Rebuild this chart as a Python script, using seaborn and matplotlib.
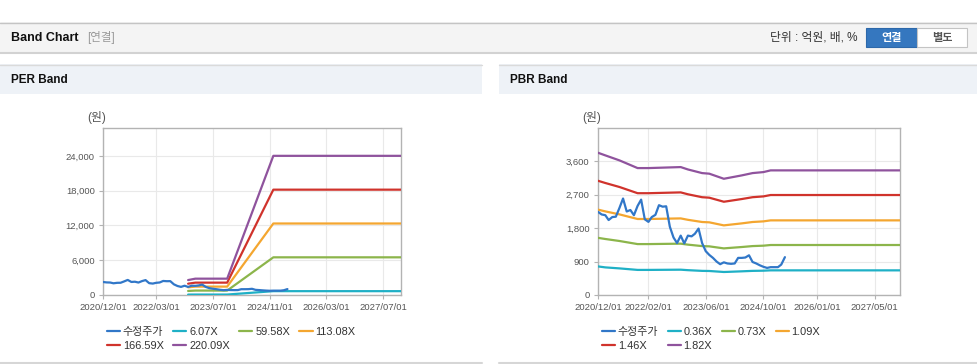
import pandas as pd
import matplotlib
matplotlib.use("Agg")
import matplotlib.pyplot as plt
import matplotlib.dates as mdates
from matplotlib.patches import Rectangle
from matplotlib.lines import Line2D
from matplotlib.ticker import FuncFormatter
import seaborn as sns

W, H = 978, 364

### data
# adjusted price (수정주가), monthly from 2020/12
price_dates = pd.date_range("2020-12-01", periods=53, freq="MS")
price = [2240, 2170, 2150, 2020, 2100, 2110, 2350, 2600, 2250, 2290,
         2150, 2400, 2570, 2040, 1970, 2100, 2160, 2420, 2380, 2390,
         1840, 1550, 1400, 1600, 1390, 1600, 1580, 1650, 1790, 1400,
         1180, 1080, 1000, 900, 830, 880, 850, 840, 850, 1000,
         1000, 1010, 1070, 890, 850, 800, 760, 730, 750, 750,
         750, 820, 1020]

# PER bands
per_dates = pd.to_datetime(["2022-12-01", "2023-02-01", "2023-11-01",
                            "2024-05-01", "2024-12-01", "2027-12-01"])
per_labels = ["6.07X", "59.58X", "113.08X", "166.59X", "220.09X"]
per_607 = [71, 78, 78, 346, 662, 662]
per_5958 = [697, 763, 763, 3396, 6497, 6497]
per_11308 = [1323, 1447, 1447, 6446, 12331, 12331]
per_16659 = [1949, 2132, 2132, 9496, 18166, 18166]
per_22009 = [2575, 2817, 2817, 12545, 24000, 24000]
per_ticks = ["2020-12-01", "2022-03-01", "2023-07-01", "2024-11-01", "2026-03-01", "2027-07-01"]
per_yticks = [0, 6000, 12000, 18000, 24000]

# PBR bands
pbr_dates = pd.to_datetime(["2020-12-01", "2021-02-01", "2021-06-01", "2021-11-01",
                            "2022-02-01", "2022-11-01", "2023-01-01", "2023-05-01",
                            "2023-07-01", "2023-11-01", "2023-12-01", "2024-04-01",
                            "2024-07-01", "2024-10-01", "2024-12-01", "2027-12-01"])
pbr_labels = ["0.36X", "0.73X", "1.09X", "1.46X", "1.82X"]
pbr_036 = [770, 744, 717, 676, 676, 682, 669, 650, 647, 620, 623, 638, 650, 655, 664, 664]
pbr_073 = [1540, 1509, 1455, 1372, 1372, 1383, 1357, 1318, 1311, 1256, 1264, 1293, 1318, 1329, 1347, 1347]
pbr_109 = [2300, 2253, 2172, 2048, 2048, 2064, 2026, 1967, 1958, 1876, 1887, 1930, 1967, 1984, 2011, 2011]
pbr_146 = [3078, 3018, 2910, 2743, 2743, 2765, 2714, 2635, 2622, 2513, 2527, 2586, 2635, 2657, 2694, 2694]
pbr_182 = [3833, 3762, 3627, 3420, 3420, 3447, 3383, 3285, 3269, 3132, 3150, 3223, 3285, 3312, 3358, 3358]
pbr_ticks = ["2020-12-01", "2022-02-01", "2023-06-01", "2024-10-01", "2026-01-01", "2027-05-01"]
pbr_yticks = [0, 900, 1800, 2700, 3600]

price_color = "#3177c8"
band_colors = ["#1fb0c6", "#8cb54b", "#f4a630", "#d0332c", "#8f539d"]

sns.set_theme(style="white")
plt.rcParams["font.family"] = ["Liberation Sans", "Noto Sans CJK KR", "DejaVu Sans"]

fig = plt.figure(figsize=(W / 100, H / 100), dpi=100)
fig.patch.set_facecolor("white")


def rect(x0, y0, x1, y1, fc, ec="none", lw=0.0, z=-2):
    fig.add_artist(Rectangle((x0 / W, 1 - y1 / H), (x1 - x0) / W, (y1 - y0) / H,
                             transform=fig.transFigure, facecolor=fc, edgecolor=ec,
                             linewidth=lw, zorder=z))


def hline(x0, x1, y, color, lw=1.0):
    fig.add_artist(Line2D([x0 / W, x1 / W], [1 - y / H, 1 - y / H],
                          transform=fig.transFigure, color=color, linewidth=lw, zorder=-1))


def ftext(x, y, s, **kw):
    fig.text(x / W, 1 - y / H, s, va="center", **kw)


# page header bar
rect(0, 22, W, 52, "#f4f4f4")
hline(0, W, 22.5, "#c4c4c4", 1.0)
hline(0, W, 52.5, "#d2d2d2", 1.5)
ftext(11, 38, "Band Chart", fontsize=9, fontweight="bold", color="#111111")
ftext(87, 38, "[연결]", fontsize=8.3, color="#999999")
ftext(770, 38, "단위 : 억원, 배, %", fontsize=8.5, color="#333333")
rect(866, 28, 917, 47, "#3577bf", ec="#2d68aa", lw=0.8, z=-1)
rect(917, 28, 967, 47, "#ffffff", ec="#c4c4c4", lw=0.8, z=-1)
ftext(891.5, 37.5, "연결", fontsize=8, fontweight="bold", color="white", ha="center")
ftext(942, 37.5, "별도", fontsize=8, fontweight="bold", color="#555555", ha="center")

# panel frames
for x0, x1, title in [(0, 482, "PER Band"), (499, W, "PBR Band")]:
    rect(x0, 64, x1, 94, "#eef2f7")
    hline(x0, x1, 64.5, "#dadada", 1.0)
    hline(x0, x1, 362.5, "#d6d6d6", 1.5)
    ftext(x0 + 11, 80, title, fontsize=8.5, fontweight="bold", color="#111111")


def draw_band(ax_box, dates, bands, labels, ticks, yticks, ymax, unit_x):
    ax = fig.add_axes([ax_box[0] / W, 1 - ax_box[3] / H,
                       (ax_box[2] - ax_box[0]) / W, (ax_box[3] - ax_box[1]) / H])
    ax.set_facecolor("white")
    sns.lineplot(x=price_dates, y=price, ax=ax, color=price_color, linewidth=1.6,
                 label="수정주가", zorder=4)
    for vals, lab, col in zip(bands, labels, band_colors):
        sns.lineplot(x=dates, y=vals, ax=ax, color=col, linewidth=1.6, label=lab, zorder=3)

    ax.set_xlim(pd.Timestamp("2020-12-01"), pd.Timestamp("2027-12-01"))
    ax.set_ylim(0, ymax)
    ax.set_xticks(pd.to_datetime(ticks))
    ax.xaxis.set_major_formatter(mdates.DateFormatter("%Y/%m/%d"))
    ax.set_yticks(yticks)
    ax.yaxis.set_major_formatter(FuncFormatter(lambda v, p: f"{int(v):,}"))
    ax.grid(True, color="#e9e9e9", linewidth=0.8)
    ax.set_axisbelow(True)
    for sp in ax.spines.values():
        sp.set_color("#b3b3b3")
        sp.set_linewidth(1.0)
    ax.tick_params(axis="both", length=3, width=0.8, color="#b3b3b3",
                   labelcolor="#555555", labelsize=6.8, pad=3,
                   bottom=True, left=True)
    ax.set_xlabel("")
    ax.set_ylabel("")

    # row-wise legend: matplotlib fills columns, so reorder the handles
    handles, labs = ax.get_legend_handles_labels()
    order = [0, 4, 1, 5, 2, 3]
    ax.legend([handles[i] for i in order], [labs[i] for i in order],
              loc="upper left", bbox_to_anchor=((ax_box[0] + 4) / W, 1 - 327 / H),
              bbox_transform=fig.transFigure, ncol=4, frameon=False,
              fontsize=7.9, handlelength=1.2, handletextpad=0.25,
              columnspacing=0.85, labelspacing=0.35, borderaxespad=0, borderpad=0)
    for t in ax.get_legend().get_texts():
        t.set_color("#333333")
    ftext(unit_x, 117, "(원)", fontsize=8.5, color="#555555")
    return ax


draw_band((103, 128, 401, 295), per_dates,
          [per_607, per_5958, per_11308, per_16659, per_22009],
          per_labels, per_ticks, per_yticks, 28800, 87)
draw_band((598, 128, 900, 295), pbr_dates,
          [pbr_036, pbr_073, pbr_109, pbr_146, pbr_182],
          pbr_labels, pbr_ticks, pbr_yticks, 4500, 582)

fig.savefig("out.png", dpi=100)
